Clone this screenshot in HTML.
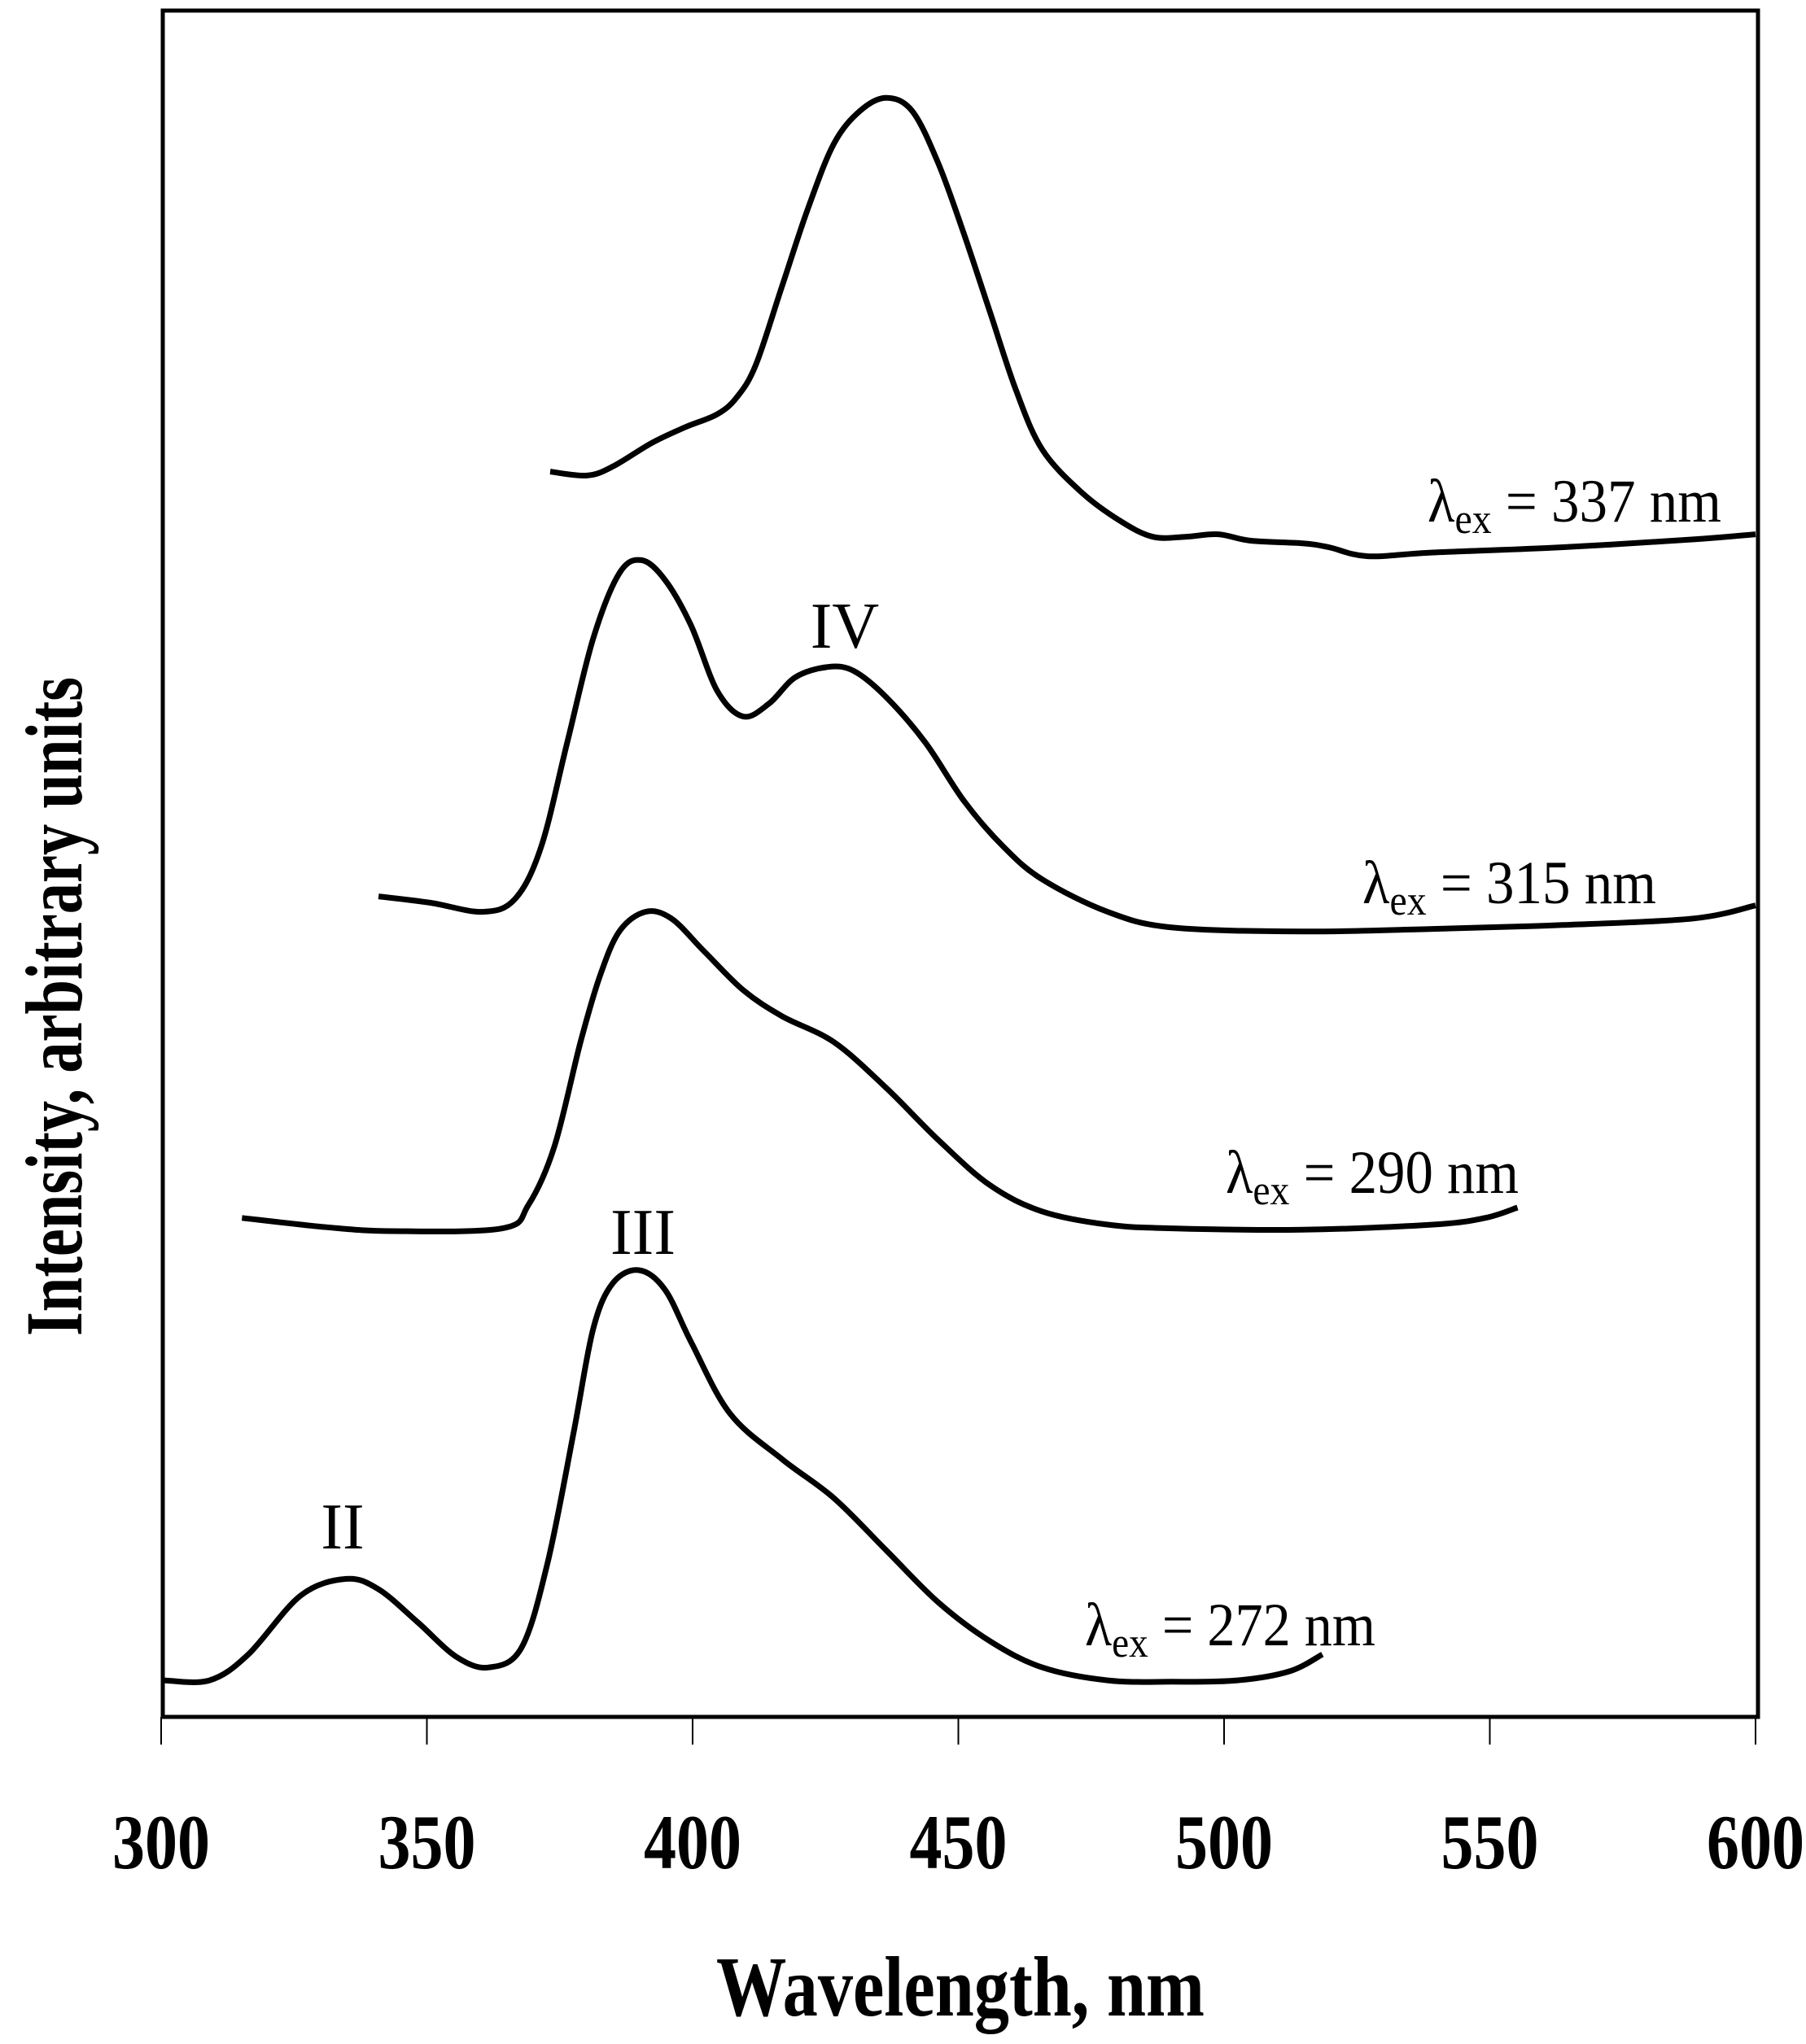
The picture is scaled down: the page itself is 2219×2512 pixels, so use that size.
<!DOCTYPE html>
<html><head><meta charset="utf-8"><style>
html,body{margin:0;padding:0;background:#fff;}
svg{display:block;font-family:"Liberation Serif",serif;}
</style></head><body>
<svg id="chart" width="2219" height="2512" viewBox="0 0 2219 2512" xmlns="http://www.w3.org/2000/svg">
<rect x="200" y="13" width="1960" height="2097" fill="none" stroke="#000" stroke-width="5"/>
<g id="ticks"></g>
<g id="series"></g>
<text x="1180" y="2477" font-size="105" font-weight="bold" text-anchor="middle" textLength="600" lengthAdjust="spacingAndGlyphs">Wavelength, nm</text>
<text transform="translate(100,1237) rotate(-90)" font-size="100" font-weight="bold" text-anchor="middle" textLength="810" lengthAdjust="spacingAndGlyphs">Intensity, arbitrary units</text>
<text x="1754" y="641" font-size="75" textLength="361" lengthAdjust="spacingAndGlyphs">λ<tspan font-size="52" dy="14">ex</tspan><tspan dy="-14"> = 337 nm</tspan></text>
<text x="1674" y="1110" font-size="75" textLength="361" lengthAdjust="spacingAndGlyphs">λ<tspan font-size="52" dy="14">ex</tspan><tspan dy="-14"> = 315 nm</tspan></text>
<text x="1506" y="1466" font-size="75" textLength="360" lengthAdjust="spacingAndGlyphs">λ<tspan font-size="52" dy="14">ex</tspan><tspan dy="-14"> = 290 nm</tspan></text>
<text x="1333" y="2022" font-size="75" textLength="357" lengthAdjust="spacingAndGlyphs">λ<tspan font-size="52" dy="14">ex</tspan><tspan dy="-14"> = 272 nm</tspan></text>
<text x="1038" y="796" font-size="80" text-anchor="middle">IV</text>
<text x="790" y="1541" font-size="80" text-anchor="middle">III</text>
<text x="421" y="1903" font-size="80" text-anchor="middle">II</text>
</svg>
<script>
const xTicks = [300, 350, 400, 450, 500, 550, 600];
const xTickLabels = ["300", "350", "400", "450", "500", "550", "600"];
const wl272 = [300.5,309.1,316.4,326.2,334.8,340.9,348.2,355.6,361.7,367.8,372.7,377.6,381.3,385.0,389.9,394.8,399.7,407.0,416.8,426.6,436.4,446.2,456.0,465.8,478.1,490.3,502.5,512.3,518.5];
const int272 = [2.14,2.14,3.66,7.10,8.09,7.48,5.57,3.51,2.90,4.05,9.01,16.64,22.75,25.42,26.18,25.04,21.98,17.79,15.11,12.82,9.77,6.72,4.43,2.90,2.14,2.06,2.14,2.67,3.66];
const wl290 = [315.2,331.1,343.4,364.2,369.1,374.0,378.9,382.5,386.2,391.1,396.0,402.1,409.5,416.8,426.6,436.4,446.2,456.0,465.8,478.1,490.3,514.8,539.3,549.1,555.2];
const int290 = [29.24,28.70,28.47,28.63,30.00,33.44,39.54,43.36,46.03,47.18,46.79,44.89,42.60,41.07,39.54,36.87,33.82,31.15,29.62,28.85,28.63,28.55,28.85,29.24,29.85];
const wl315 = [340.9,350.7,360.5,366.6,371.5,376.4,381.3,386.2,390.4,394.8,399.7,404.6,409.5,414.4,419.3,425.4,430.3,436.4,443.8,451.1,458.5,465.8,478.1,490.3,514.8,539.3,563.8,588.3,600];
const int315 = [48.09,47.71,47.18,47.94,50.99,57.10,63.21,67.02,67.79,66.64,63.97,60.15,58.63,59.39,60.92,61.53,61.30,59.77,57.10,53.66,50.99,49.08,47.18,46.26,46.03,46.18,46.41,46.79,47.56];
const wl337 = [373.2,380.1,385.0,392.3,398.5,404.6,408.3,411.9,416.8,421.7,426.6,431.5,436.4,441.3,446.2,451.1,456.0,460.9,465.8,473.2,480.5,486.6,492.7,498.9,505.0,514.8,519.7,527.0,539.3,563.8,588.3,600];
const int337 = [72.98,72.75,73.28,74.66,75.57,76.34,77.33,79.24,83.82,88.40,92.21,94.12,94.89,94.12,91.07,86.87,82.29,77.71,74.27,71.76,70.08,69.16,69.16,69.31,68.93,68.78,68.55,68.02,68.24,68.55,69.01,69.31];

const NS = "http://www.w3.org/2000/svg";
function xs(w){ return 198 + (w - 300) * (2157 - 198) / 300; }
function ys(v){ return 2110 - v * 20.97; }

const tg = document.getElementById('ticks');
xTicks.forEach((t, i) => {
  const l = document.createElementNS(NS, 'line');
  l.setAttribute('x1', xs(t)); l.setAttribute('x2', xs(t));
  l.setAttribute('y1', 2110); l.setAttribute('y2', 2144);
  l.setAttribute('stroke', '#000'); l.setAttribute('stroke-width', '2');
  
  
  tg.appendChild(l);
  const tx = document.createElementNS(NS, 'text');
  tx.setAttribute('x', xs(t)); tx.setAttribute('y', 2296);
  tx.setAttribute('font-size', '95'); tx.setAttribute('font-weight', 'bold');
  tx.setAttribute('text-anchor', 'middle');
  tx.setAttribute('textLength', '120'); tx.setAttribute('lengthAdjust', 'spacingAndGlyphs');
  tx.textContent = xTickLabels[i];
  
  
  tg.appendChild(tx);
});

function smoothPath(wl, iv){
  const p = wl.map((w, i) => [xs(w), ys(iv[i])]);
  let d = 'M' + p[0][0].toFixed(1) + ',' + p[0][1].toFixed(1);
  for (let i = 0; i < p.length - 1; i++) {
    const p0 = p[Math.max(0, i - 1)], p1 = p[i], p2 = p[i + 1], p3 = p[Math.min(p.length - 1, i + 2)];
    const c1x = p1[0] + (p2[0] - p0[0]) / 6, c1y = p1[1] + (p2[1] - p0[1]) / 6;
    const c2x = p2[0] - (p3[0] - p1[0]) / 6, c2y = p2[1] - (p3[1] - p1[1]) / 6;
    d += ' C' + c1x.toFixed(1) + ',' + c1y.toFixed(1) + ' ' + c2x.toFixed(1) + ',' + c2y.toFixed(1) + ' ' + p2[0].toFixed(1) + ',' + p2[1].toFixed(1);
  }
  return d;
}
const sg = document.getElementById('series');
[[wl272, int272, 'series-272nm'], [wl290, int290, 'series-290nm'], [wl315, int315, 'series-315nm'], [wl337, int337, 'series-337nm']].forEach(s => {
  const path = document.createElementNS(NS, 'path');
  path.setAttribute('d', smoothPath(s[0], s[1]));
  path.setAttribute('fill', 'none'); path.setAttribute('stroke', '#000');
  path.setAttribute('stroke-width', '7'); path.setAttribute('stroke-linejoin', 'round');
  
  
  sg.appendChild(path);
});
</script>
</body></html>
